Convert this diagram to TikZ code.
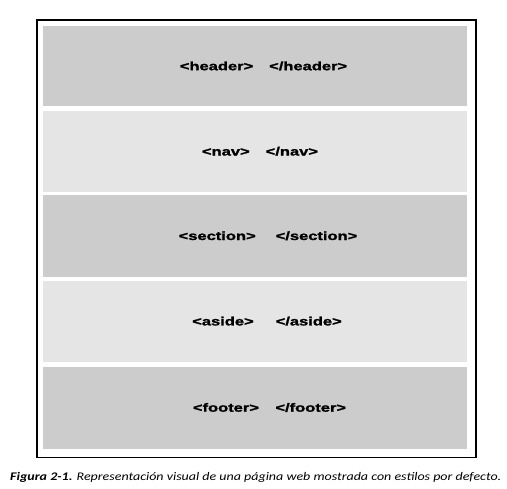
\documentclass[tikz,border=0pt]{standalone}
\usepackage{fontspec}
\setmainfont{Carlito}
\newfontfamily\tagfont[FakeStretch=1.38,FakeBold=1.6]{Liberation Sans Bold}
\newfontfamily\capfont[FakeStretch=1.2]{Carlito}
\definecolor{bandDark}{RGB}{204,204,204}
\definecolor{bandLight}{RGB}{229,229,229}
\begin{document}
\begin{tikzpicture}[x=1bp,y=-1bp,
  bandbox/.style={draw=none,minimum width=424bp,minimum height=81bp,anchor=north west,inner sep=0pt},
  tagtext/.style={font=\tagfont\fontsize{12}{14}\selectfont,text=black}]
\useasboundingbox (0,0) rectangle (507,489);
\fill[white] (0,0) rectangle (507,489);
\node[draw=black,line width=1.8bp,minimum width=439bp,minimum height=437.5bp,anchor=north west,inner sep=0pt] (frame) at (36,19) {};
\node[bandbox,fill=bandDark,minimum height=80bp] (header) at (43,26) {};
\node[bandbox,fill=bandLight] (nav) at (43,110.8) {};
\node[bandbox,fill=bandDark] (section) at (43,195.3) {};
\node[bandbox,fill=bandLight] (aside) at (43,280.7) {};
\node[bandbox,fill=bandDark,minimum height=81.6bp] (footer) at (43,366.7) {};
\node[tagtext] (theader) at (263.5,66) {<header>\hspace{16bp}</header>};
\node[tagtext] (tnav) at (260,151.3) {<nav>\hspace{16bp}</nav>};
\node[tagtext] (tsection) at (268,235.8) {<section>\hspace{20bp}</section>};
\node[tagtext] (taside) at (267,321.2) {<aside>\hspace{22bp}</aside>};
\node[tagtext] (tfooter) at (269.5,407.5) {<footer>\hspace{16.5bp}</footer>};
\node[anchor=base west,inner sep=0pt,font=\capfont\fontsize{11.7}{13}\selectfont] (caption) at (10,480.3) {\textbf{\textit{Figura 2-1.}} \textit{Representación visual de una página web mostrada con estilos por defecto.}};
\end{tikzpicture}
\end{document}
